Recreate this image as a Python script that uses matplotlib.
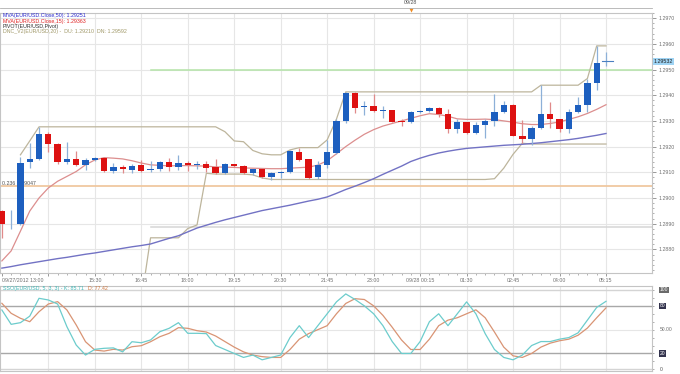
import numpy as np
import matplotlib.pyplot as plt
from matplotlib.transforms import blended_transform_factory

plt.rcParams['font.family'] = ['Liberation Sans', 'DejaVu Sans']

W, H = 680, 374

# 15 minute EUR/USD bars, 09/27/2012 13:00 .. 09/28 05:15
opens = [1.28949, 1.28897, 1.28900, 1.29139, 1.29152, 1.29248, 1.29210, 1.29141, 1.29151, 1.29129,
         1.29148, 1.29155, 1.29106, 1.29121, 1.29110, 1.29127, 1.29110, 1.29111, 1.29139, 1.29121,
         1.29137, 1.29127, 1.29131, 1.29119, 1.29096, 1.29132, 1.29124, 1.29097, 1.29111, 1.29081,
         1.29098, 1.29101, 1.29180, 1.29150, 1.29080, 1.29129, 1.29174, 1.29300, 1.29409, 1.29354,
         1.29359, 1.29340, 1.29342, 1.29300, 1.29294, 1.29333, 1.29338, 1.29351, 1.29325, 1.29268,
         1.29294, 1.29252, 1.29284, 1.29300, 1.29333, 1.29361, 1.29243, 1.29230, 1.29271, 1.29325,
         1.29307, 1.29268, 1.29333, 1.29361, 1.29449, 1.29528]
highs = [1.28955, 1.28955, 1.29161, 1.29213, 1.29275, 1.29258, 1.29213, 1.29219, 1.29181, 1.29157,
         1.29161, 1.29157, 1.29137, 1.29127, 1.29132, 1.29148, 1.29142, 1.29142, 1.29155, 1.29168,
         1.29142, 1.29142, 1.29142, 1.29152, 1.29137, 1.29134, 1.29129, 1.29114, 1.29114, 1.29103,
         1.29106, 1.29187, 1.29196, 1.29152, 1.29142, 1.29226, 1.29307, 1.29413, 1.29413, 1.29377,
         1.29406, 1.29359, 1.29343, 1.29307, 1.29338, 1.29341, 1.29354, 1.29355, 1.29348, 1.29307,
         1.29297, 1.29297, 1.29307, 1.29403, 1.29377, 1.29364, 1.29303, 1.29281, 1.29439, 1.29374,
         1.29307, 1.29346, 1.29394, 1.29465, 1.29591, 1.29570]
lows = [1.28845, 1.28881, 1.28895, 1.29116, 1.29148, 1.29178, 1.29132, 1.29132, 1.29123, 1.29110,
        1.29142, 1.29101, 1.29096, 1.29096, 1.29097, 1.29101, 1.29103, 1.29106, 1.29106, 1.29110,
        1.29106, 1.29114, 1.29103, 1.29093, 1.29093, 1.29119, 1.29093, 1.29090, 1.29078, 1.29070,
        1.29078, 1.29098, 1.29142, 1.29075, 1.29075, 1.29116, 1.29170, 1.29290, 1.29329, 1.29323,
        1.29336, 1.29312, 1.29294, 1.29281, 1.29290, 1.29329, 1.29333, 1.29316, 1.29252, 1.29252,
        1.29250, 1.29250, 1.29235, 1.29280, 1.29329, 1.29240, 1.29213, 1.29206, 1.29268, 1.29271,
        1.29258, 1.29252, 1.29329, 1.29336, 1.29419, 1.29514]
closes = [1.28897, 1.28900, 1.29138, 1.29151, 1.29248, 1.29210, 1.29139, 1.29152, 1.29127, 1.29147,
          1.29155, 1.29106, 1.29121, 1.29111, 1.29125, 1.29106, 1.29114, 1.29139, 1.29120, 1.29137,
          1.29127, 1.29131, 1.29116, 1.29096, 1.29132, 1.29124, 1.29097, 1.29111, 1.29081, 1.29098,
          1.29102, 1.29183, 1.29146, 1.29078, 1.29129, 1.29178, 1.29300, 1.29409, 1.29351, 1.29359,
          1.29338, 1.29343, 1.29297, 1.29294, 1.29333, 1.29338, 1.29351, 1.29325, 1.29268, 1.29297,
          1.29252, 1.29284, 1.29300, 1.29333, 1.29361, 1.29243, 1.29230, 1.29271, 1.29325, 1.29307,
          1.29268, 1.29333, 1.29361, 1.29449, 1.29526, 1.29532]

ma15 = [1.28755, 1.28794, 1.28871, 1.28949, 1.29000, 1.29039, 1.29065, 1.29084, 1.29103, 1.29129,
        1.29148, 1.29157, 1.29155, 1.29152, 1.29145, 1.29136, 1.29129, 1.29127, 1.29125, 1.29126,
        1.29126, 1.29125, 1.29124, 1.29121, 1.29120, 1.29119, 1.29117, 1.29116, 1.29115, 1.29114,
        1.29114, 1.29116, 1.29118, 1.29120, 1.29128, 1.29145, 1.29172, 1.29200, 1.29225, 1.29248,
        1.29266, 1.29280, 1.29290, 1.29300, 1.29310, 1.29320, 1.29328, 1.29325, 1.29318, 1.29308,
        1.29306, 1.29306, 1.29307, 1.29305, 1.29300, 1.29295, 1.29289, 1.29286, 1.29286, 1.29290,
        1.29296, 1.29306, 1.29316, 1.29329, 1.29345, 1.29363]
ma50 = [1.28727, 1.28733, 1.28740, 1.28746, 1.28752, 1.28758, 1.28764, 1.28769, 1.28775, 1.28781,
        1.28786, 1.28792, 1.28798, 1.28804, 1.28810, 1.28815, 1.28821, 1.28832, 1.28843, 1.28853,
        1.28868, 1.28883, 1.28894, 1.28905, 1.28915, 1.28924, 1.28933, 1.28942, 1.28951, 1.28958,
        1.28965, 1.28972, 1.28980, 1.28988, 1.28995, 1.29004, 1.29018, 1.29033, 1.29046, 1.29060,
        1.29075, 1.29092, 1.29108, 1.29124, 1.29142, 1.29155, 1.29166, 1.29175, 1.29182, 1.29188,
        1.29193, 1.29196, 1.29199, 1.29202, 1.29205, 1.29207, 1.29209, 1.29212, 1.29215, 1.29219,
        1.29223, 1.29227, 1.29232, 1.29238, 1.29244, 1.29251]

nan = float('nan')
dc_upper = [nan, nan, 1.29168, 1.29222] + [1.29277] * 20 + \
           [1.29258, 1.29222, 1.29219, 1.29185, 1.29172, 1.29168, 1.29168, 1.29187, 1.29196, 1.29196,
            1.29196, 1.29226, 1.29307] + [1.29413] * 21 + [1.29439] * 5 + [1.29465, 1.29592, 1.29592]
dc_lower = [nan] * 15 + [1.28600, 1.28845, 1.28845, 1.28845, 1.28845, 1.28881, 1.28895, 1.29096,
                         1.29093, 1.29093, 1.29093, 1.29093, 1.29090, 1.29078] + [1.29072] * 24 + \
           [1.29075, 1.29116, 1.29170, 1.29213] + [1.29210] * 9

stoch_k = [74.8, 56.7, 58.8, 67.0, 89.5, 87.4, 82.3, 53.7, 30.6, 18.0,
           25.2, 26.5, 27.0, 22.0, 34.8, 33.5, 37.0, 47.4, 51.7, 58.8,
           45.4, 45.4, 45.0, 30.0, 25.0, 20.0, 15.0, 18.0, 12.0, 15.0,
           18.0, 40.0, 55.0, 40.0, 55.0, 70.0, 85.0, 95.0, 88.0, 80.0,
           70.0, 55.0, 35.0, 20.0, 20.0, 35.0, 60.0, 70.0, 55.0, 70.0,
           85.0, 70.0, 45.0, 25.0, 15.0, 12.0, 18.0, 30.0, 35.0, 35.0,
           38.0, 40.0, 46.0, 62.0, 78.0, 85.71]
stoch_d = [83.2, 70.6, 64.3, 60.0, 72.6, 82.3, 85.3, 74.8, 55.9, 34.8,
           24.3, 23.0, 25.2, 24.3, 28.5, 29.8, 34.8, 41.1, 45.4, 52.5,
           51.7, 48.7, 47.0, 42.0, 35.0, 28.0, 22.0, 18.0, 16.0, 15.0,
           15.0, 25.0, 38.0, 45.0, 50.0, 55.0, 70.0, 83.0, 89.0, 88.0,
           80.0, 68.0, 53.0, 37.0, 25.0, 25.0, 38.0, 55.0, 62.0, 65.0,
           70.0, 75.0, 65.0, 47.0, 28.0, 17.0, 15.0, 20.0, 28.0, 33.0,
           36.0, 38.0, 43.0, 52.0, 65.0, 77.42]

tick_idx = [0, 5, 10, 15, 20, 25, 30, 35, 40, 45, 50, 55, 60, 65]
tick_labels = ['09/27/2012 13:00', '', '15:30', '16:45', '18:00', '19:15', '20:30', '21:45',
               '23:00', '09/28 00:15', '01:30', '02:45', '04:00', '05:15']
date_idx = 44
date_label = '09/28'

fib_level = 1.29047
pivot_level = 1.29500
s_level = 1.28888
level_start = 16
last_price = 1.29532

x = np.arange(len(opens))
o = np.array(opens); c = np.array(closes)
up = c >= o

fig = plt.figure(figsize=(W / 100, H / 100), dpi=100)
fig.patch.set_facecolor('white')

def px(l, t, r, b):
    return [l / W, 1 - b / H, (r - l) / W, (b - t) / H]

ax = fig.add_axes(px(0, 13, 652, 273))
ax2 = fig.add_axes(px(0, 286, 652, 371))

xlim = (-0.2, 69.95)
grid_c = '#e6e6e6'
for a in (ax, ax2):
    a.set_xlim(*xlim)
    for s in a.spines.values():
        s.set_color('#c4c4c4')
        s.set_linewidth(0.8)
    for t in tick_idx[1:]:
        a.axvline(t, color=grid_c, lw=0.8, zorder=0)

# ---- price panel
ax.set_ylim(1.28708, 1.29712)
for lv in np.arange(1.2880, 1.2971, 0.001):
    ax.axhline(lv, color=grid_c, lw=0.8, zorder=0)

ax.axhline(fib_level, color='#f0c8a0', lw=1.3, zorder=1)
ax.text(0.0, fib_level, '0.236 1.29047', fontsize=3.8, color='#505050', va='bottom', ha='left')
ax.plot([level_start, xlim[1]], [pivot_level, pivot_level], color='#b4e4a8', lw=1.1, zorder=1)
ax.plot([level_start, xlim[1]], [s_level, s_level], color='#d6d6d6', lw=1.1, zorder=1)

ax.plot(x, dc_upper, color='#bdb59c', lw=0.9, zorder=2)
ax.plot(x, dc_lower, color='#bdb59c', lw=0.9, zorder=2)
ax.plot(x, ma50, color='#7272c4', lw=1.0, zorder=2)
ax.plot(x, ma15, color='#dc8e8e', lw=0.9, zorder=2)

wick_c = np.where(up, '#8db0d8', '#e08a8a')
ax.vlines(x, lows, highs, colors=wick_c, lw=0.9, zorder=3)
body = np.maximum(np.abs(c - o), 0.00003)
ax.bar(x, body, bottom=np.minimum(o, c), width=0.68,
       color=np.where(up, '#1d5fbf', '#dd1111'), lw=0, zorder=4)

ax.yaxis.tick_right()
ax.set_yticks(np.arange(1.2880, 1.2971, 0.001))
ax.set_yticks(np.arange(1.2872, 1.2972, 0.0002), minor=True)
ax.yaxis.set_major_formatter(plt.FormatStrFormatter('%.4f'))
ax.tick_params(axis='y', which='major', labelsize=3.8, colors='#707070', length=3, width=0.5, pad=2)
ax.tick_params(axis='y', which='minor', length=1.5, width=0.5, colors='#909090')

ax.set_xticks(tick_idx)
ax.set_xticklabels(tick_labels)
ax.set_xticks(x, minor=True)
ax.tick_params(axis='x', which='major', labelsize=3.8, colors='#707070', length=2.5, width=0.5, pad=0.8)
ax.tick_params(axis='x', which='minor', length=1.5, width=0.5, colors='#909090')
ax.get_xticklabels()[0].set_horizontalalignment('left')

ax.text(1.003, last_price, '%.5f' % last_price, transform=blended_transform_factory(ax.transAxes, ax.transData),
        fontsize=3.8, color='#202020', va='center', ha='left',
        bbox=dict(boxstyle='square,pad=0.15', fc='#9fd4f4', ec='none'))
ax.plot([x[-1] - 0.4, x[-1] + 0.8], [last_price, last_price], color='#4a7fc0', lw=0.8, zorder=5)

legend = [('MVA(EUR/USD.Close,50): 1.29251', '#2a2ad0'),
          ('MVA(EUR/USD.Close,15): 1.29363', '#e02020'),
          ('PIVOT(EUR/USD,Pivot)', '#303030'),
          ('DNC_V2(EUR/USD,20) -  DU: 1.29210  DN: 1.29592', '#a09868')]
for i, (t, col) in enumerate(legend):
    fig.text(3 / W, 1 - (16 + 5.2 * i) / H, t, fontsize=3.8, color=col, va='center', ha='left')

# date marker strip
trx = blended_transform_factory(ax.transData, fig.transFigure)
fig.add_artist(plt.Line2D([0, 652 / W], [1 - 7.5 / H] * 2, color='#b0b0b0', lw=0.6))
fig.text(date_idx, 1 - 3 / H, date_label, transform=trx, fontsize=3.8, color='#505050',
         ha='center', va='center')
ax.plot([date_idx], [1 - 9.5 / H], marker='v', color='#f08a20', ms=3, mec='none',
        transform=trx, clip_on=False)

# ---- stochastic panel
ax2.set_ylim(-2.1, 105)
ax2.axhline(100, color='#d4d4d4', lw=1.0)
ax2.axhline(0, color='#d4d4d4', lw=1.0)
ax2.axhline(50, color=grid_c, lw=0.8)
ax2.axhline(80, color='#a8a8a8', lw=1.0)
ax2.axhline(20, color='#a8a8a8', lw=1.0)
ax2.plot(x, stoch_d, color='#d99474', lw=0.9)
ax2.plot(x, stoch_k, color='#6ccccc', lw=0.9)
ax2.set_xticks([])
ax2.yaxis.tick_right()
ax2.set_yticks([])
ax2.set_yticks(np.arange(0, 101, 10), minor=True)
ax2.tick_params(axis='y', which='minor', length=1.5, width=0.5, colors='#909090')
try2 = blended_transform_factory(ax2.transAxes, ax2.transData)
for v, lab, fc, tc in [(100, '100', '#6a6a6a', 'white'), (80, '80', '#33334d', 'white'),
                       (50, '50.00', 'none', '#707070'), (20, '20', '#33334d', 'white'),
                       (0, '0', 'none', '#505050')]:
    ax2.text(1.012, v, lab, transform=try2, fontsize=3.6, color=tc, va='center', ha='left',
             bbox=dict(boxstyle='square,pad=0.15', fc=fc, ec='none'))

fig.text(3 / W, 1 - 288.5 / H, 'SSO(EUR/USD, 5, 3, 3) - K: 85.71', fontsize=3.8, color='#40b8b8',
         va='center', ha='left')
fig.text(88 / W, 1 - 288.5 / H, 'D: 77.42', fontsize=3.8, color='#d07840', va='center', ha='left')

fig.savefig('out.png', dpi=100, facecolor='white')
